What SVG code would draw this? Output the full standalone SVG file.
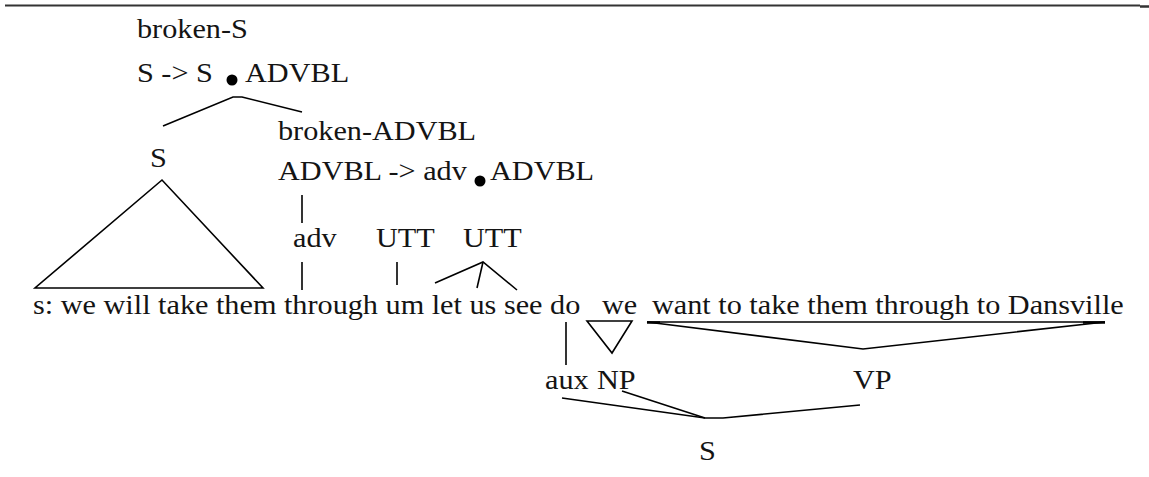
<svg xmlns="http://www.w3.org/2000/svg" width="1149" height="477" viewBox="0 0 1149 477">
  <style>
    .ln { fill: none; stroke: #000; stroke-width: 1.6; stroke-linejoin: miter; }
    .dot { fill: #000; }
  </style>
  <rect width="1149" height="477" fill="#fff"/>
  <line x1="5" y1="5.5" x2="1140" y2="5.5" stroke="#333" stroke-width="2"/>
  <line x1="1140" y1="6.5" x2="1149" y2="6.5" stroke="#333" stroke-width="2.5"/>

  <g font-family="Liberation Serif, Times New Roman, serif" font-size="28" fill="#141414">
  <g id="node-broken-S">
    <text x="126.85" y="38" transform="scale(1.08,1)">broken-S</text>
    <text x="126.85" y="82" transform="scale(1.08,1)">S -&gt; S</text>
    <circle class="dot" cx="232" cy="80" r="5.5"/>
    <text x="226.85" y="82" transform="scale(1.08,1)">ADVBL</text>
  </g>
  <g id="node-S-top">
    <text x="138.89" y="167" transform="scale(1.08,1)">S</text>
  </g>
  <g id="node-broken-ADVBL">
    <text x="257.41" y="140" transform="scale(1.08,1)">broken-ADVBL</text>
    <text x="257.41" y="180" transform="scale(1.08,1)">ADVBL -&gt; adv</text>
    <circle class="dot" cx="480" cy="181" r="5.5"/>
    <text x="453.70" y="180" transform="scale(1.08,1)">ADVBL</text>
  </g>
  <g id="node-adv">
    <text x="271.30" y="247" transform="scale(1.08,1)">adv</text>
  </g>
  <g id="node-UTT1">
    <text x="348.15" y="247" transform="scale(1.08,1)">UTT</text>
  </g>
  <g id="node-UTT2">
    <text x="428.70" y="247" transform="scale(1.08,1)">UTT</text>
  </g>
  <g id="node-sentence">
    <text x="30.56" y="314" transform="scale(1.08,1)">s: we will take them through um let us see do</text>
    <text x="557.41" y="314" transform="scale(1.08,1)">we</text>
    <text x="603.70" y="314" transform="scale(1.08,1)">want to take them through to Dansville</text>
  </g>
  <g id="node-aux">
    <text x="504.63" y="389" transform="scale(1.08,1)">aux</text>
  </g>
  <g id="node-NP">
    <text x="552.78" y="389" transform="scale(1.08,1)">NP</text>
  </g>
  <g id="node-VP">
    <text x="789.81" y="389" transform="scale(1.08,1)">VP</text>
  </g>
  <g id="node-S-bottom">
    <text x="647.22" y="460" transform="scale(1.08,1)">S</text>
  </g>
  </g>

  <g id="connectors">
    <polyline class="ln" points="163,126 233,97 242,97 302,112"/>
    <polygon class="ln" points="162,180 35,288 263,288"/>
    <line class="ln" x1="302" y1="195" x2="302" y2="223"/>
    <line class="ln" x1="302" y1="262" x2="302" y2="290"/>
    <line class="ln" x1="397" y1="262" x2="397" y2="285"/>
    <polyline class="ln" points="435,283 483,262 517,290"/>
    <line class="ln" x1="483" y1="262" x2="477" y2="288"/>
    <line class="ln" x1="566" y1="322" x2="566" y2="365"/>
    <polygon class="ln" points="587,321 632,321 612,353"/>
    <line class="ln" x1="647" y1="322" x2="1105" y2="322"/>
    <polyline class="ln" points="647,322 863,349 1105,322"/>
    <line x1="647" y1="322.5" x2="660" y2="322.5" stroke="#000" stroke-width="2.5"/>
    <line x1="1083" y1="322.5" x2="1105" y2="322.5" stroke="#000" stroke-width="2.5"/>
    <polyline class="ln" points="562,398 705,418 723,418 860,405"/>
    <line class="ln" x1="622" y1="391" x2="705" y2="418"/>
  </g>
</svg>
